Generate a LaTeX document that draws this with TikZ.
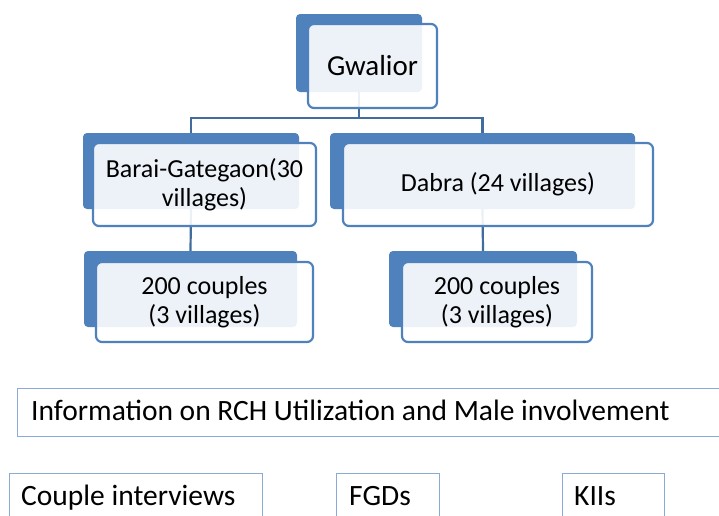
\documentclass[tikz,border=0pt]{standalone}
\usepackage{fontspec}
\setmainfont{Carlito}
\definecolor{accent}{HTML}{4F81BD}
\definecolor{connc}{HTML}{416C9C}
\definecolor{thinb}{HTML}{8AAAD8}
\begin{document}
\begin{tikzpicture}[x=1pt,y=-1pt,
  backbox/.style={fill=accent, rounded corners=4pt, inner sep=0pt},
  frontbox/.style={draw=accent, line width=2.2pt, fill=white, fill opacity=0.9, text opacity=1, rounded corners=6pt, inner sep=0pt, align=center, font=\fontsize{26}{29}\selectfont},
  connline/.style={draw=connc, line width=2.2pt},
  infobox/.style={draw=thinb, line width=1.2pt, inner sep=0pt, anchor=north west},
  infotext/.style={anchor=base west, inner sep=0pt, font=\fontsize{29.5}{32}\selectfont},
]
\useasboundingbox (0,0) rectangle (719,515);
\clip (0,0) rectangle (719,515);

% back boxes
\node[backbox, minimum width=126pt, minimum height=78pt] (gB) at (359,53) {};
\node[backbox, minimum width=216pt, minimum height=76pt] (bB) at (191,171) {};
\node[backbox, minimum width=305pt, minimum height=76pt] (dB) at (482.5,171) {};
\node[backbox, minimum width=213pt, minimum height=76pt] (lB) at (190.5,289) {};
\node[backbox, minimum width=188pt, minimum height=76pt] (rB) at (483,289) {};

% connectors (drawn before front boxes)
\coordinate (hub) at (359,118);
\draw[connline] (gB.south) -- (hub);
\draw[connline] (hub) -| (bB.north);
\draw[connline] (hub) -| (dB.north);
\draw[connline] (bB.south) -- (lB.north);
\draw[connline] (dB.south) -- (rB.north);

% front boxes
\node[frontbox, minimum width=129pt, minimum height=84pt, font=\fontsize{29}{32}\selectfont] (gF) at (372.5,66) {Gwalior};
\node[frontbox, minimum width=223pt, minimum height=83pt] (bF) at (204.5,184.5) {Barai-Gategaon(30\\villages)};
\node[frontbox, minimum width=310pt, minimum height=83pt] (dF) at (498,184.5) {Dabra (24 villages)};
\node[frontbox, minimum width=217pt, minimum height=80pt] (lF) at (204.5,302) {200 couples\\(3 villages)};
\node[frontbox, minimum width=190pt, minimum height=80pt] (rF) at (497,302) {200 couples\\(3 villages)};

% bottom boxes
\node[infobox, minimum width=713pt, minimum height=48pt] (info) at (17,388) {};
\node[infotext] (infoT) at (31,420) {Information on RCH Utilization and Male involvement};
\node[infobox, minimum width=253pt, minimum height=60pt] (cpl) at (9,473) {};
\node[infotext] (cplT) at (21,505) {Couple interviews};
\node[infobox, minimum width=103pt, minimum height=60pt] (fgd) at (336,473) {};
\node[infotext] (fgdT) at (349,505) {FGDs};
\node[infobox, minimum width=102pt, minimum height=60pt] (kii) at (562,473) {};
\node[infotext] (kiiT) at (574,505) {KIIs};
\end{tikzpicture}
\end{document}
